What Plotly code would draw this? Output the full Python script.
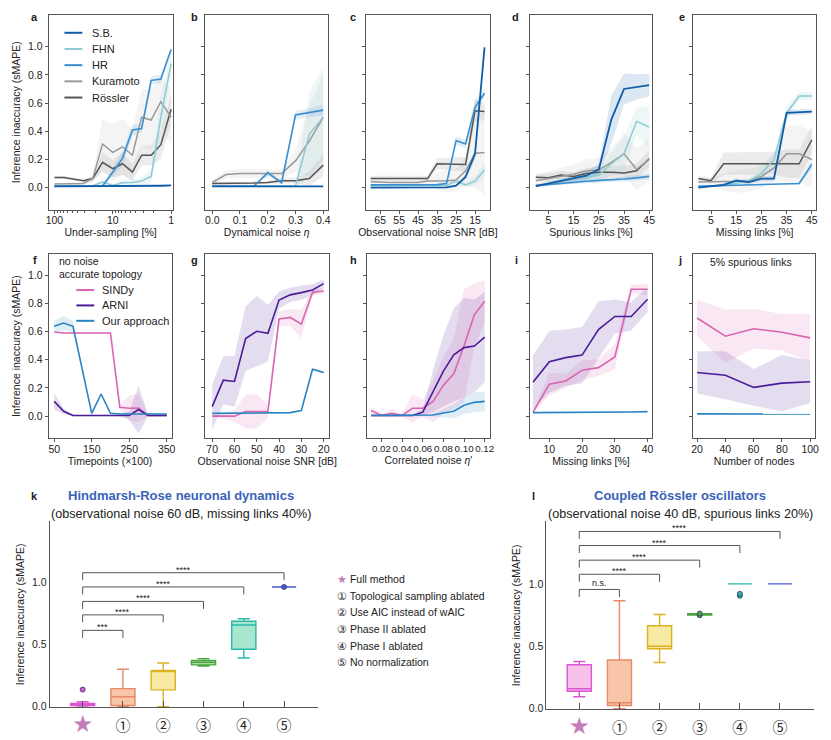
import plotly.graph_objects as go

W, H = 831, 740
FONT = "Liberation Sans, Arial, Helvetica, sans-serif"
INK = "#222222"
FRAME = "#555555"

# colours
COL_SB = "#0f5ca8"
COL_FHN = "#8ccbd3"
COL_HR = "#3a8fd0"
COL_KUR = "#999999"
COL_ROS = "#555555"
COL_SINDY = "#d866b0"
COL_ARNI = "#4b1b98"
COL_OURS = "#2a84c4"

MODELS = ["S.B.", "FHN", "HR", "Kuramoto", "Rössler"]
MODEL_COLORS = [COL_SB, COL_FHN, COL_HR, COL_KUR, COL_ROS]
METHODS = ["SINDy", "ARNI", "Our approach"]
METHOD_COLORS = [COL_SINDY, COL_ARNI, COL_OURS]

# ---------------- panel a: under-sampling [%]
A_X = [100, 68, 46, 32, 22, 15, 10, 6.8, 4.6, 3.2, 2.2, 1.5, 1]
A_SB = [0.010, 0.010, 0.010, 0.010, 0.010, 0.010, 0.011, 0.011, 0.012, 0.012, 0.013, 0.014, 0.016]
A_FHN = [0.012, 0.012, 0.012, 0.012, 0.014, 0.040, 0.016, 0.035, 0.037, 0.048, 0.080, 0.50, 0.88]
A_HR = [0.010, 0.010, 0.010, 0.010, 0.010, 0.012, 0.11, 0.21, 0.41, 0.42, 0.76, 0.77, 0.98]
A_KUR = [0.026, 0.026, 0.025, 0.030, 0.065, 0.31, 0.25, 0.29, 0.23, 0.50, 0.48, 0.61, 0.50]
A_ROS = [0.072, 0.072, 0.060, 0.050, 0.065, 0.18, 0.135, 0.17, 0.11, 0.23, 0.23, 0.305, 0.556]
A_SB_SD = [0.003, 0.003, 0.003, 0.003, 0.003, 0.003, 0.003, 0.003, 0.003, 0.003, 0.004, 0.004, 0.005]
A_FHN_SD = [0.005, 0.005, 0.005, 0.005, 0.008, 0.02, 0.01, 0.02, 0.02, 0.03, 0.05, 0.15, 0.08]
A_HR_SD = [0.003, 0.003, 0.003, 0.003, 0.003, 0.005, 0.03, 0.05, 0.04, 0.03, 0.03, 0.03, 0.02]
A_KUR_SD = [0.01, 0.01, 0.01, 0.01, 0.03, 0.18, 0.20, 0.20, 0.18, 0.20, 0.22, 0.18, 0.20]
A_ROS_SD = [0.01, 0.01, 0.01, 0.01, 0.02, 0.07, 0.06, 0.08, 0.06, 0.07, 0.07, 0.10, 0.10]

# ---------------- panel b: dynamical noise
B_X = [0.0, 0.05, 0.1, 0.15, 0.2, 0.25, 0.3, 0.35, 0.4]
B_SB = [0.010, 0.010, 0.010, 0.010, 0.010, 0.010, 0.010, 0.010, 0.010]
B_FHN = [0.010, 0.010, 0.010, 0.010, 0.010, 0.010, 0.010, 0.38, 0.50]
B_HR = [0.010, 0.010, 0.010, 0.010, 0.105, 0.035, 0.515, 0.53, 0.55]
B_KUR = [0.037, 0.093, 0.100, 0.100, 0.100, 0.100, 0.19, 0.33, 0.50]
B_ROS = [0.030, 0.030, 0.030, 0.033, 0.037, 0.050, 0.050, 0.065, 0.16]
B_SB_SD = [0.003, 0.003, 0.003, 0.003, 0.003, 0.003, 0.003, 0.004, 0.004]
B_FHN_SD = [0.005, 0.005, 0.005, 0.005, 0.005, 0.005, 0.01, 0.30, 0.35]
B_HR_SD = [0.003, 0.003, 0.003, 0.003, 0.02, 0.01, 0.03, 0.03, 0.04]
B_KUR_SD = [0.02, 0.03, 0.03, 0.03, 0.03, 0.03, 0.08, 0.25, 0.30]
B_ROS_SD = [0.01, 0.01, 0.01, 0.01, 0.01, 0.02, 0.02, 0.05, 0.08]

# ---------------- panel c: observational noise SNR [dB]
C_X = [70, 65, 60, 55, 50, 45, 40, 35, 30, 25, 20, 15, 10]
C_SB = [0.000, 0.000, 0.000, 0.000, 0.000, 0.000, 0.000, 0.000, 0.002, 0.015, 0.077, 0.24, 0.995]
C_FHN = [0.014, 0.014, 0.014, 0.014, 0.014, 0.014, 0.014, 0.014, 0.016, 0.047, 0.020, 0.047, 0.125]
C_HR = [0.020, 0.020, 0.020, 0.020, 0.020, 0.020, 0.020, 0.022, 0.030, 0.335, 0.31, 0.57, 0.67]
C_KUR = [0.042, 0.037, 0.037, 0.037, 0.037, 0.037, 0.047, 0.047, 0.047, 0.054, 0.12, 0.245, 0.25]
C_ROS = [0.065, 0.065, 0.065, 0.065, 0.065, 0.065, 0.065, 0.17, 0.17, 0.17, 0.165, 0.545, 0.54]
C_SB_SD = [0.002, 0.002, 0.002, 0.002, 0.002, 0.002, 0.002, 0.002, 0.003, 0.005, 0.02, 0.04, 0.01]
C_FHN_SD = [0.005, 0.005, 0.005, 0.005, 0.005, 0.005, 0.005, 0.005, 0.008, 0.02, 0.02, 0.03, 0.05]
C_HR_SD = [0.004, 0.004, 0.004, 0.004, 0.004, 0.004, 0.004, 0.005, 0.01, 0.03, 0.03, 0.05, 0.03]
C_KUR_SD = [0.01, 0.01, 0.01, 0.01, 0.01, 0.01, 0.02, 0.06, 0.08, 0.08, 0.10, 0.25, 0.30]
C_ROS_SD = [0.02, 0.02, 0.02, 0.02, 0.02, 0.02, 0.02, 0.04, 0.04, 0.05, 0.05, 0.08, 0.06]

# ---------------- panel d: spurious links [%]
D_X = [0, 5, 10, 15, 20, 25, 30, 35, 40, 45]
D_SB = [0.012, 0.030, 0.050, 0.065, 0.085, 0.13, 0.485, 0.70, 0.715, 0.727]
D_FHN = [0.015, 0.030, 0.045, 0.060, 0.080, 0.090, 0.17, 0.24, 0.47, 0.43]
D_HR = [0.015, 0.024, 0.032, 0.040, 0.046, 0.052, 0.056, 0.062, 0.070, 0.080]
D_KUR = [0.050, 0.065, 0.080, 0.095, 0.12, 0.125, 0.18, 0.24, 0.13, 0.20]
D_ROS = [0.075, 0.070, 0.090, 0.080, 0.10, 0.11, 0.11, 0.105, 0.12, 0.205]
D_SB_SD = [0.005, 0.01, 0.015, 0.02, 0.03, 0.04, 0.17, 0.11, 0.09, 0.08]
D_FHN_SD = [0.01, 0.01, 0.02, 0.02, 0.03, 0.04, 0.08, 0.12, 0.10, 0.15]
D_HR_SD = [0.01, 0.01, 0.01, 0.01, 0.015, 0.015, 0.015, 0.02, 0.02, 0.02]
D_KUR_SD = [0.04, 0.05, 0.06, 0.07, 0.08, 0.09, 0.10, 0.15, 0.15, 0.15]
D_ROS_SD = [0.02, 0.03, 0.03, 0.03, 0.04, 0.04, 0.04, 0.05, 0.05, 0.06]

# ---------------- panel e: missing links [%]
E_X = [0, 5, 10, 15, 20, 25, 30, 35, 40, 45]
E_SB = [0.000, 0.010, 0.020, 0.050, 0.040, 0.065, 0.065, 0.53, 0.535, 0.54]
E_FHN = [0.010, 0.012, 0.020, 0.030, 0.050, 0.10, 0.20, 0.53, 0.65, 0.65]
E_HR = [0.010, 0.012, 0.015, 0.018, 0.020, 0.022, 0.025, 0.027, 0.030, 0.165]
E_KUR = [0.040, 0.040, 0.040, 0.045, 0.050, 0.080, 0.14, 0.24, 0.24, 0.20]
E_ROS = [0.065, 0.050, 0.17, 0.17, 0.175, 0.175, 0.175, 0.17, 0.17, 0.34]
E_SB_SD = [0.003, 0.005, 0.01, 0.015, 0.015, 0.02, 0.02, 0.02, 0.02, 0.02]
E_FHN_SD = [0.005, 0.005, 0.01, 0.01, 0.02, 0.03, 0.05, 0.05, 0.03, 0.03]
E_HR_SD = [0.004, 0.004, 0.004, 0.004, 0.005, 0.005, 0.005, 0.005, 0.01, 0.03]
E_KUR_SD = [0.02, 0.03, 0.06, 0.08, 0.08, 0.08, 0.10, 0.20, 0.20, 0.20]
E_ROS_SD = [0.02, 0.02, 0.08, 0.08, 0.08, 0.08, 0.08, 0.10, 0.10, 0.10]

# ---------------- panel f: timepoints (x100)
F_X = [50, 75, 100, 125, 150, 175, 200, 225, 250, 275, 300, 325, 350]
F_SINDY = [0.597, 0.590, 0.590, 0.590, 0.590, 0.590, 0.590, 0.063, 0.056, 0.058, 0.005, 0.005, 0.005]
F_ARNI = [0.105, 0.035, 0.005, 0.005, 0.005, 0.005, 0.005, 0.005, 0.005, 0.047, 0.005, 0.005, 0.005]
F_OURS = [0.637, 0.660, 0.637, 0.33, 0.020, 0.157, 0.020, 0.015, 0.015, 0.015, 0.015, 0.015, 0.015]
F_SINDY_SD = [0.005, 0.005, 0.005, 0.005, 0.005, 0.005, 0.005, 0.02, 0.09, 0.10, 0.005, 0.005, 0.005]
F_ARNI_SD = [0.06, 0.02, 0.005, 0.005, 0.005, 0.005, 0.005, 0.005, 0.03, 0.17, 0.01, 0.005, 0.005]
F_OURS_SD = [0.04, 0.05, 0.04, 0.01, 0.005, 0.005, 0.005, 0.005, 0.005, 0.005, 0.005, 0.005, 0.005]

# ---------------- panel g: observational noise SNR [dB]
G_X = [70, 65, 60, 55, 50, 45, 40, 35, 30, 25, 20]
G_SINDY = [0.000, 0.000, 0.000, 0.033, 0.033, 0.033, 0.69, 0.70, 0.653, 0.878, 0.888]
G_ARNI = [0.068, 0.255, 0.246, 0.55, 0.602, 0.588, 0.824, 0.86, 0.876, 0.895, 0.94]
G_OURS = [0.020, 0.020, 0.020, 0.020, 0.020, 0.020, 0.020, 0.025, 0.040, 0.333, 0.31]
G_SINDY_SD = [0.002, 0.02, 0.04, 0.12, 0.12, 0.05, 0.05, 0.06, 0.10, 0.02, 0.02]
G_ARNI_SD = [0.16, 0.17, 0.18, 0.23, 0.25, 0.20, 0.06, 0.05, 0.05, 0.04, 0.03]
G_OURS_SD = [0.004, 0.004, 0.004, 0.004, 0.004, 0.004, 0.004, 0.004, 0.005, 0.01, 0.01]

# ---------------- panel h: correlated noise
H_X = [0.01, 0.02, 0.03, 0.04, 0.05, 0.06, 0.07, 0.08, 0.09, 0.10, 0.11, 0.12]
H_SINDY = [0.040, 0.005, 0.020, 0.005, 0.056, 0.056, 0.105, 0.22, 0.30, 0.50, 0.72, 0.815]
H_ARNI = [0.005, 0.005, 0.005, 0.005, 0.005, 0.028, 0.18, 0.32, 0.435, 0.486, 0.497, 0.56]
H_OURS = [0.005, 0.005, 0.005, 0.005, 0.005, 0.005, 0.008, 0.023, 0.035, 0.077, 0.098, 0.105]
H_SINDY_SD = [0.03, 0.01, 0.03, 0.01, 0.10, 0.06, 0.15, 0.20, 0.25, 0.40, 0.22, 0.15]
H_ARNI_SD = [0.005, 0.005, 0.005, 0.005, 0.005, 0.02, 0.15, 0.25, 0.33, 0.35, 0.33, 0.32]
H_OURS_SD = [0.005, 0.005, 0.005, 0.005, 0.005, 0.005, 0.01, 0.03, 0.05, 0.06, 0.07, 0.07]

# ---------------- panel i: missing links [%]
I_X = [5, 10, 15, 20, 25, 30, 35, 40]
I_SINDY = [0.028, 0.227, 0.25, 0.325, 0.344, 0.42, 0.90, 0.90]
I_ARNI = [0.24, 0.386, 0.415, 0.433, 0.614, 0.707, 0.707, 0.829]
I_OURS = [0.025, 0.025, 0.026, 0.027, 0.027, 0.028, 0.030, 0.032]
I_SINDY_SD = [0.01, 0.08, 0.05, 0.07, 0.06, 0.09, 0.03, 0.04]
I_ARNI_SD = [0.19, 0.22, 0.20, 0.20, 0.20, 0.12, 0.10, 0.09]
I_OURS_SD = [0.004, 0.004, 0.004, 0.004, 0.004, 0.004, 0.004, 0.004]

# ---------------- panel j: number of nodes
J_X = [20, 40, 60, 80, 100]
J_SINDY = [0.696, 0.567, 0.62, 0.595, 0.555]
J_ARNI = [0.31, 0.29, 0.204, 0.234, 0.244]
J_OURS = [0.016, 0.016, 0.012, 0.012, 0.015]
J_SINDY_SD = [0.13, 0.19, 0.14, 0.13, 0.17]
J_ARNI_SD = [0.15, 0.17, 0.13, 0.20, 0.15]
J_OURS_SD = [0.004, 0.004, 0.004, 0.004, 0.004]

# ---------------- panels k, l: ablation boxplots
ABLATIONS = ["Full method", "Topological sampling ablated", "Use AIC instead of wAIC",
             "Phase II ablated", "Phase I ablated", "No normalization"]
ABL_MARKS = ["★", "①", "②", "③", "④", "⑤"]
BOX_LINE = ["#dc55d2", "#e8896a", "#dcb222", "#4aa645", "#2ab8a8", "#4858d8"]
BOX_FILL = ["#f6c2ea", "#f9c5a8", "#f8eaa2", "#aadc9a", "#a8e6d0", "#c2c9f2"]
STAR_COLOR = "#c47db8"

K_LO = [0.005, 0.000, 0.000, 0.325, 0.39, 0.96]
K_Q1 = [0.010, 0.010, 0.135, 0.335, 0.46, 0.96]
K_MED = [0.015, 0.080, 0.290, 0.355, 0.655, 0.96]
K_Q3 = [0.025, 0.145, 0.290, 0.370, 0.685, 0.96]
K_HI = [0.040, 0.300, 0.350, 0.385, 0.705, 0.96]
K_OUT = [[0.137], [], [], [], [], [0.96]]
K_BRACKET = [0.612, 0.736, 0.844, 0.960, 1.074]
K_SIG = ["***", "****", "****", "****", "****"]

L_LO = [0.095, 0.000, 0.370, 0.750, 1.0, 1.0]
L_Q1 = [0.140, 0.025, 0.480, 0.750, 1.0, 1.0]
L_MED = [0.160, 0.048, 0.500, 0.755, 1.0, 1.0]
L_Q3 = [0.352, 0.390, 0.664, 0.760, 1.0, 1.0]
L_HI = [0.378, 0.865, 0.754, 0.760, 1.0, 1.0]
L_OUT = [[], [], [], [0.748, 0.762], [0.905, 0.920], []]
L_BRACKET = [0.955, 1.077, 1.190, 1.307, 1.420]
L_SIG = ["n.s.", "****", "****", "****", "****"]

# ---------------- layout (pixel boxes: left, right, top, bottom)
BOXES = {
    "a": (46, 171, 15, 211), "b": (204, 328, 15, 211), "c": (366, 491, 15, 211),
    "d": (531, 655, 15, 211), "e": (696, 820, 15, 211),
    "f": (46, 170, 256, 441), "g": (204, 329, 256, 441), "h": (367, 491, 256, 441),
    "i": (531, 655, 256, 441), "j": (696, 819, 256, 441),
    "k": (47, 318, 525, 712), "l": (548, 818, 525, 714),
}
LETTER_POS = {
    "a": (32, 17), "b": (193, 17), "c": (353, 17), "d": (517, 17), "e": (685, 17),
    "f": (32, 262), "g": (193, 262), "h": (353, 262), "i": (518, 262), "j": (683, 262),
    "k": (32, 499), "l": (535, 499),
}
ORDER = list("abcdefghijkl")


def suffix(n):
    return "" if n == 1 else str(n)


def rgba(hex_color, alpha):
    h = hex_color.lstrip("#")
    r, g, b = int(h[0:2], 16), int(h[2:4], 16), int(h[4:6], 16)
    return f"rgba({r},{g},{b},{alpha})"


def px(x, y):
    return x / W, 1 - y / H


fig = go.Figure()
annotations = []
shapes = []


def note(text, x, y, size=10.5, xanchor="left", color=INK, bold=False, **kw):
    xx, yy = px(x, y)
    if bold:
        text = f"<b>{text}</b>"
    annotations.append(dict(text=text, x=xx, y=yy, xref="paper", yref="paper",
                            showarrow=False, xanchor=xanchor, yanchor="middle",
                            font=dict(family=FONT, size=size, color=color), **kw))


def add_panel(letter, x, ys, sds, colors, widths):
    n = ORDER.index(letter) + 1
    xr, yr = "x" + suffix(n), "y" + suffix(n)
    for y, sd, c in zip(ys, sds, colors):
        alpha = 0.11 if c in (COL_KUR, COL_ROS) else 0.15
        hi = [v + s for v, s in zip(y, sd)]
        lo = [v - s for v, s in zip(y, sd)]
        fig.add_trace(go.Scatter(
            x=list(x) + list(x)[::-1], y=hi + lo[::-1], fill="toself",
            fillcolor=rgba(c, alpha), line=dict(width=0), mode="lines",
            hoverinfo="skip", showlegend=False, xaxis=xr, yaxis=yr))
    for y, c, w in zip(ys, colors, widths):
        fig.add_trace(go.Scatter(x=x, y=y, mode="lines", line=dict(color=c, width=w),
                                 showlegend=False, xaxis=xr, yaxis=yr))


ROW1_COLORS = [COL_ROS, COL_KUR, COL_FHN, COL_HR, COL_SB]
ROW1_W = [1.5, 1.5, 1.5, 1.6, 1.8]
add_panel("a", A_X, [A_ROS, A_KUR, A_FHN, A_HR, A_SB],
          [A_ROS_SD, A_KUR_SD, A_FHN_SD, A_HR_SD, A_SB_SD], ROW1_COLORS, ROW1_W)
add_panel("b", B_X, [B_ROS, B_KUR, B_FHN, B_HR, B_SB],
          [B_ROS_SD, B_KUR_SD, B_FHN_SD, B_HR_SD, B_SB_SD], ROW1_COLORS, ROW1_W)
add_panel("c", C_X, [C_ROS, C_KUR, C_FHN, C_HR, C_SB],
          [C_ROS_SD, C_KUR_SD, C_FHN_SD, C_HR_SD, C_SB_SD], ROW1_COLORS, ROW1_W)
add_panel("d", D_X, [D_ROS, D_KUR, D_FHN, D_HR, D_SB],
          [D_ROS_SD, D_KUR_SD, D_FHN_SD, D_HR_SD, D_SB_SD], ROW1_COLORS, ROW1_W)
add_panel("e", E_X, [E_ROS, E_KUR, E_FHN, E_HR, E_SB],
          [E_ROS_SD, E_KUR_SD, E_FHN_SD, E_HR_SD, E_SB_SD], ROW1_COLORS, ROW1_W)

ROW2_W = [1.6, 1.6, 1.6]
add_panel("f", F_X, [F_SINDY, F_ARNI, F_OURS], [F_SINDY_SD, F_ARNI_SD, F_OURS_SD], METHOD_COLORS, ROW2_W)
add_panel("g", G_X, [G_SINDY, G_ARNI, G_OURS], [G_SINDY_SD, G_ARNI_SD, G_OURS_SD], METHOD_COLORS, ROW2_W)
add_panel("h", H_X, [H_SINDY, H_ARNI, H_OURS], [H_SINDY_SD, H_ARNI_SD, H_OURS_SD], METHOD_COLORS, ROW2_W)
add_panel("i", I_X, [I_SINDY, I_ARNI, I_OURS], [I_SINDY_SD, I_ARNI_SD, I_OURS_SD], METHOD_COLORS, ROW2_W)
add_panel("j", J_X, [J_SINDY, J_ARNI, J_OURS], [J_SINDY_SD, J_ARNI_SD, J_OURS_SD], METHOD_COLORS, ROW2_W)


def add_boxes(letter, lo, q1, med, q3, hi, outliers, brackets, sig, drop):
    n = ORDER.index(letter) + 1
    xr, yr = "x" + suffix(n), "y" + suffix(n)
    for i in range(len(ABLATIONS)):
        fig.add_trace(go.Box(
            x=[i], q1=[q1[i]], median=[med[i]], q3=[q3[i]],
            lowerfence=[lo[i]], upperfence=[hi[i]], width=0.6, whiskerwidth=0.5,
            line=dict(color=BOX_LINE[i], width=1.4), fillcolor=BOX_FILL[i],
            boxpoints=False, showlegend=False, xaxis=xr, yaxis=yr))
        if outliers[i]:
            fig.add_trace(go.Scatter(
                x=[i] * len(outliers[i]), y=outliers[i], mode="markers",
                marker=dict(size=5, color=BOX_LINE[i], line=dict(color="#333366", width=0.8)),
                showlegend=False, xaxis=xr, yaxis=yr))
    for j, (h, s) in enumerate(zip(brackets, sig)):
        k = j + 1
        fig.add_trace(go.Scatter(
            x=[0, 0, k, k], y=[h - drop, h, h, h - drop], mode="lines",
            line=dict(color=FRAME, width=1), showlegend=False, hoverinfo="skip",
            xaxis=xr, yaxis=yr))
        annotations.append(dict(
            text=s, x=k / 2, y=h, xref=xr, yref=yr, showarrow=False,
            yanchor="bottom", borderpad=0, yshift=-3 if s.startswith("*") else 0,
            font=dict(family=FONT, size=9, color=INK)))


add_boxes("k", K_LO, K_Q1, K_MED, K_Q3, K_HI, K_OUT, K_BRACKET, K_SIG, 0.06)
add_boxes("l", L_LO, L_Q1, L_MED, L_Q3, L_HI, L_OUT, L_BRACKET, L_SIG, 0.06)

# ---------------- axes
TICKFONT = dict(family=FONT, size=10.5, color=INK)


def frame_axis(**kw):
    base = dict(showline=True, linecolor=FRAME, linewidth=1, mirror=True,
                ticks="outside", ticklen=3, tickwidth=1, tickcolor=FRAME,
                showgrid=False, zeroline=False, tickfont=TICKFONT,
                ticklabeloverflow="allow",
                title=dict(font=dict(family=FONT, size=10.5, color=INK), standoff=3))
    base.update(kw)
    return base


X_SPECS = {
    "a": dict(type="log", range=[2.1, -0.025], tickvals=[100, 10, 1], ticktext=["100", "10", "1"],
              minor=dict(ticks="outside", ticklen=2, tickcolor=FRAME,
                         tickvals=[90, 80, 70, 60, 50, 40, 30, 20, 9, 8, 7, 6, 5, 4, 3, 2]),
              title_text="Under-sampling [%]"),
    "b": dict(range=[-0.025, 0.418], tickvals=[0, 0.1, 0.2, 0.3, 0.4], tickformat=".1f",
              title_text="Dynamical noise <i>η</i>"),
    "c": dict(range=[72.5, 7.2], tickvals=[65, 55, 45, 35, 25, 15],
              title_text="Observational noise SNR [dB]"),
    "d": dict(range=[-2.5, 46.3], tickvals=[5, 15, 25, 35, 45], title_text="Spurious links [%]"),
    "e": dict(range=[-2.1, 46.7], tickvals=[5, 15, 25, 35, 45], title_text="Missing links [%]"),
    "f": dict(range=[35, 363], tickvals=[50, 150, 250, 350], title_text="Timepoints (×100)"),
    "g": dict(range=[73.1, 17.5], tickvals=[70, 60, 50, 40, 30, 20],
              title_text="Observational noise SNR [dB]"),
    "h": dict(range=[0.0059, 0.125], tickvals=[0.02, 0.04, 0.06, 0.08, 0.10, 0.12], tickformat=".2f",
              tickangle=0, tickfont=dict(family=FONT, size=9.8, color=INK),
              title_text="Correlated noise <i>η</i>′"),
    "i": dict(range=[3.94, 41.5], tickvals=[10, 20, 30, 40], title_text="Missing links [%]"),
    "j": dict(range=[17.2, 103.5], tickvals=[20, 40, 60, 80, 100], title_text="Number of nodes"),
}

YTICKS = [0, 0.2, 0.4, 0.6, 0.8, 1.0]
layout_axes = {}
for n, letter in enumerate(ORDER, start=1):
    l, r, t, b = BOXES[letter]
    xdom = [l / W, r / W]
    ydom = [1 - b / H, 1 - t / H]
    s = suffix(n)
    if letter in X_SPECS:
        xa = frame_axis(domain=xdom, anchor="y" + s, ticklabelstandoff=-2, **X_SPECS[letter])
        yrange = [-0.155, 1.225] if letter in "abcde" else [-0.155, 1.148]
        ya = frame_axis(domain=ydom, anchor="x" + s, range=yrange, tickvals=YTICKS,
                        tickformat=".1f", showticklabels=letter in "af")
        if letter in "af":
            ya["title"] = dict(text="Inference inaccuracy (sMAPE)", standoff=5,
                               font=dict(family=FONT, size=10.5, color=INK))
    else:
        ticktext = [f'<span style="color:{STAR_COLOR};font-size:19px">★</span>'] + ABL_MARKS[1:]
        xa = dict(domain=xdom, anchor="y" + s, range=[-0.82, 5.85], tickvals=list(range(6)),
                  ticktext=ticktext, showline=True, linecolor=FRAME, linewidth=1, mirror=False,
                  ticks="inside", ticklen=6, tickcolor=FRAME, showgrid=False, zeroline=False,
                  ticklabeloverflow="allow", ticklabelstandoff=5,
                  tickfont=dict(family="Noto Sans CJK JP, " + FONT, size=15, color=INK))
        top = 1.485 if letter == "k" else 1.5
        ya = dict(domain=ydom, anchor="x" + s, range=[-0.004, top], tickvals=[0, 0.5, 1.0],
                  tickformat=".1f", showline=True, linecolor=FRAME, linewidth=1, mirror=False,
                  ticks="", showgrid=False, zeroline=False, tickfont=TICKFONT,
                  title=dict(text="Inference inaccuracy (sMAPE)", standoff=5,
                             font=dict(family=FONT, size=10.5, color=INK)))
    layout_axes["xaxis" + s] = xa
    layout_axes["yaxis" + s] = ya

# ---------------- text: panel letters, legends, titles
for letter, (x, y) in LETTER_POS.items():
    note(letter, x, y, size=11, bold=True, xanchor="center")

# panel a legend
for i, (name, c) in enumerate(zip(MODELS, MODEL_COLORS)):
    yy = 33 + 16.3 * i
    x0, y0 = px(62, yy)
    x1, _ = px(80, yy)
    shapes.append(dict(type="line", xref="paper", yref="paper", x0=x0, x1=x1, y0=y0, y1=y0,
                       line=dict(color=c, width=2)))
    note(name, 88, yy, size=11)

# panel f legend
note("no noise", 54, 263)
note("accurate topology", 54, 276)
for i, (name, c) in enumerate(zip(METHODS, METHOD_COLORS)):
    yy = 292 + 15.5 * i
    x0, y0 = px(74, yy)
    x1, _ = px(92, yy)
    shapes.append(dict(type="line", xref="paper", yref="paper", x0=x0, x1=x1, y0=y0, y1=y0,
                       line=dict(color=c, width=2)))
    note(name, 98, yy, size=11)

note("5% spurious links", 711, 264)

# ablation legend
for i, (mark, name) in enumerate(zip(ABL_MARKS, ABLATIONS)):
    if i == 0:
        mark = f'<span style="color:{STAR_COLOR}">{mark}</span>'
    note(f"{mark} {name}", 335, 583 + 16.8 * i, size=10.5)

# bottom titles
TITLE_BLUE = "#3a63b8"
note("Hindmarsh-Rose neuronal dynamics", 180, 499, size=13, bold=True, xanchor="center",
     color=TITLE_BLUE)
note("(observational noise 60 dB, missing links 40%)", 180, 517, size=12.6, xanchor="center")
note("Coupled Rössler oscillators", 683, 499, size=13, bold=True, xanchor="center",
     color=TITLE_BLUE)
note("(observational noise 40 dB, spurious links 20%)", 683, 517, size=12.6, xanchor="center")

fig.update_layout(
    width=W, height=H, margin=dict(l=0, r=0, t=0, b=0),
    paper_bgcolor="white", plot_bgcolor="white",
    font=dict(family=FONT, size=10.5, color=INK),
    showlegend=False, annotations=annotations, shapes=shapes,
    **layout_axes,
)

# the page's default body margin would push the fixed-size figure off its origin
fig.write_html("out.html", config={"displayModeBar": False},
               post_script="document.body.style.margin='0';document.body.style.overflow='hidden';")
